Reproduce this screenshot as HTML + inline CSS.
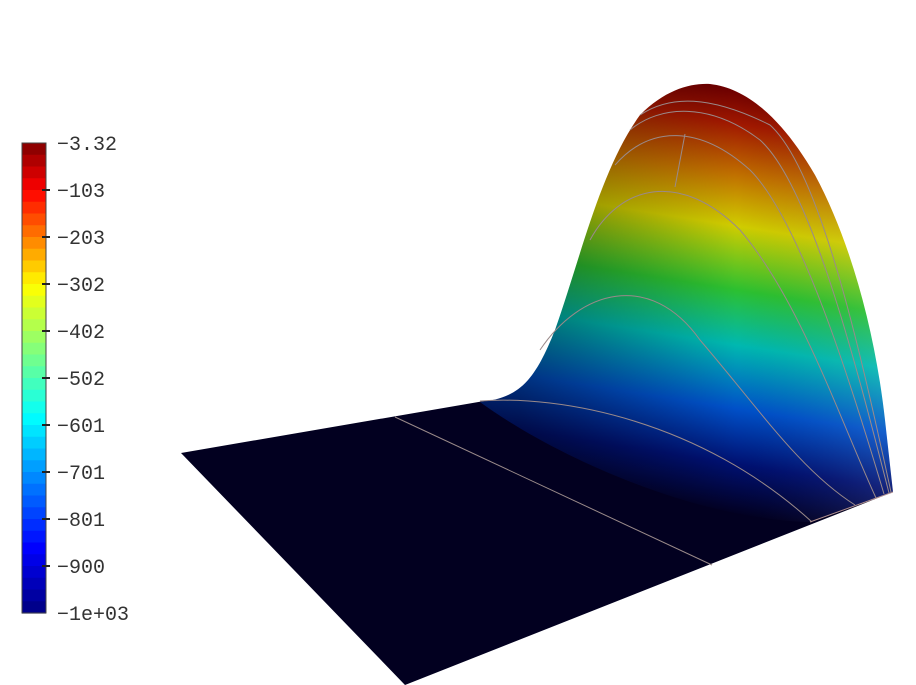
<!DOCTYPE html>
<html><head><meta charset="utf-8"><style>
html,body{margin:0;padding:0;background:#fff;}
svg{display:block;}
text{font-family:"Liberation Mono","DejaVu Sans Mono",monospace;font-size:20px;fill:#333;}
</style></head><body>
<svg id="chart" width="916" height="685" viewBox="0 0 916 685">
<defs>
<linearGradient id="hillGrad" gradientUnits="userSpaceOnUse" x1="705" y1="85" x2="640" y2="500">
<stop offset="0" stop-color="#6e0000"/>
<stop offset="0.08" stop-color="#a01800"/>
<stop offset="0.2" stop-color="#c07000"/>
<stop offset="0.32" stop-color="#d0cc00"/>
<stop offset="0.47" stop-color="#2cc030"/>
<stop offset="0.6" stop-color="#00b8b0"/>
<stop offset="0.75" stop-color="#0050c8"/>
<stop offset="0.88" stop-color="#001070"/>
<stop offset="1" stop-color="#020020"/>
</linearGradient>
<linearGradient id="shadeGrad" gradientUnits="userSpaceOnUse" x1="520" y1="0" x2="880" y2="0">
<stop offset="0" stop-color="#000" stop-opacity="0.35"/>
<stop offset="0.6" stop-color="#000" stop-opacity="0"/>
<stop offset="1" stop-color="#fff" stop-opacity="0.08"/>
</linearGradient>
</defs>
<g id="surface">
<polygon points="181,453 490,400 893,492 405,685" fill="#020020"/>
<path fill="url(#hillGrad)" d="M480,402 C520,398 535,380 555,330 C580,260 600,170 640,115 C665,90 690,83 710,84 C745,88 780,115 815,175 C850,240 875,330 885,420 L893,492 L810,522 C700,520 560,460 480,402 Z"/>
<path fill="url(#shadeGrad)" d="M480,402 C520,398 535,380 555,330 C580,260 600,170 640,115 C665,90 690,83 710,84 C745,88 780,115 815,175 C850,240 875,330 885,420 L893,492 L810,522 C700,520 560,460 480,402 Z"/>
<g fill="none" stroke="#9a8a8a" stroke-width="1">
<path d="M395,417 L712,565"/>
<path d="M480,401 C560,395 700,420 812,522"/>
<path d="M540,350 C580,290 650,270 700,340 C760,410 800,470 855,505"/>
<path d="M590,240 C620,185 680,170 740,230 C800,300 840,420 876,498"/>
<path d="M615,165 C650,125 700,125 750,170 C800,220 850,380 884,494"/>
<path d="M630,130 C660,105 710,102 760,140 C810,185 855,360 889,493"/>
<path d="M640,115 C670,95 710,95 770,125 C820,170 860,350 891,492"/>
<path d="M685,134 L675,187"/>
</g>
<path fill="none" stroke="#b09090" stroke-width="1" d="M893,492 L810,522"/>
</g>
<g id="colorbar"></g>
</svg>
<script>
const colorbarLabels = ["-3.32","-103","-203","-302","-402","-502","-601","-701","-801","-900","-1e+03"];
const colorbarBands = 40;
const cbX = 22, cbW = 24, cbTop = 143, cbBottom = 613;
function jet(t){
  t = t < 0.7 ? t * 0.9 : 0.63 + (t - 0.7) * (0.37 / 0.3);
  const r = Math.max(0, Math.min(1, 1.5 - Math.abs(4*t - 3)));
  const g = Math.max(0, Math.min(1, 1.5 - Math.abs(4*t - 2)));
  const b = Math.max(0, Math.min(1, 1.5 - Math.abs(4*t - 1)));
  return `rgb(${Math.round(r*255)},${Math.round(g*255)},${Math.round(b*255)})`;
}
const ns = "http://www.w3.org/2000/svg";
const cb = document.getElementById("colorbar");
const bandH = (cbBottom - cbTop) / colorbarBands;
for (let i = 0; i < colorbarBands; i++) {
  const r = document.createElementNS(ns, "rect");
  r.setAttribute("x", cbX); r.setAttribute("y", cbTop + i*bandH);
  r.setAttribute("width", cbW); r.setAttribute("height", bandH + 0.6);
  r.setAttribute("fill", jet(1 - (i + 0.5)/colorbarBands));
  
  
  cb.appendChild(r);
}
const frame = document.createElementNS(ns, "rect");
frame.setAttribute("x", cbX); frame.setAttribute("y", cbTop);
frame.setAttribute("width", cbW); frame.setAttribute("height", cbBottom - cbTop);
frame.setAttribute("fill", "none"); frame.setAttribute("stroke", "#444");


cb.appendChild(frame);
colorbarLabels.forEach((lab, i) => {
  const y = cbTop + i * (cbBottom - cbTop) / (colorbarLabels.length - 1);
  if (i > 0 && i < colorbarLabels.length - 1) {
    const t = document.createElementNS(ns, "line");
    t.setAttribute("x1", cbX + cbW - 4); t.setAttribute("x2", cbX + cbW + 4);
    t.setAttribute("y1", y); t.setAttribute("y2", y);
    t.setAttribute("stroke", "#222"); t.setAttribute("stroke-width", "2");
    
    
    cb.appendChild(t);
  }
  const tx = document.createElementNS(ns, "text");
  tx.setAttribute("x", 57); tx.setAttribute("y", y + 7);
  tx.textContent = lab.replace("-", "\u2212");
  
  
  cb.appendChild(tx);
});
</script>
</body></html>
